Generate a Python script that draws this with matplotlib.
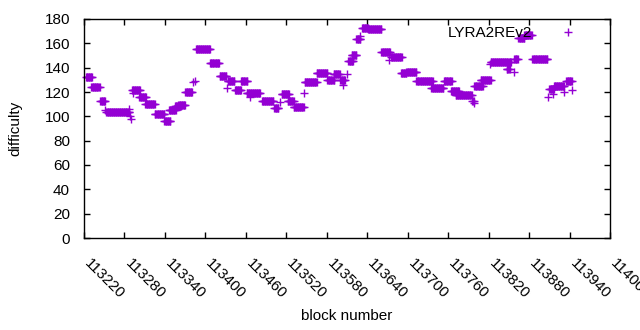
import matplotlib
matplotlib.use("Agg")
import matplotlib.pyplot as plt
import matplotlib.transforms as mtransforms

plt.rcParams["font.family"] = ["Liberation Sans", "DejaVu Sans"]
plt.rcParams["font.size"] = 11

LABEL = "LYRA2REv2"
COLOR = "#9400d3"

# runs of consecutive blocks that share one difficulty value:
# first block, last block, difficulty (single points have first == last)
RUN_START = [113223, 113231, 113244, 113251, 113253, 113286, 113288, 113290,
             113291, 113293, 113302, 113311, 113325, 113339, 113346, 113355,
             113360, 113370, 113382, 113384, 113386, 113407, 113421, 113432,
             113433, 113444, 113453, 113461, 113466, 113484, 113502, 113511,
             113513, 113522, 113531, 113546, 113547, 113565, 113581, 113590,
             113600, 113604, 113610, 113612, 113617, 113624, 113630, 113632,
             113641, 113661, 113673, 113675, 113690, 113698, 113713, 113735,
             113754, 113764, 113771, 113796, 113798, 113799, 113808, 113822,
             113823, 113847, 113857, 113858, 113864, 113873, 113885, 113908,
             113910, 113916, 113917, 113932, 113935, 113944]
RUN_END = [113232, 113243, 113251, 113251, 113287, 113286, 113288, 113290,
           113303, 113293, 113312, 113325, 113339, 113348, 113356, 113364,
           113370, 113380, 113382, 113384, 113407, 113420, 113431, 113432,
           113443, 113453, 113462, 113481, 113466, 113501, 113508, 113511,
           113524, 113531, 113546, 113546, 113565, 113581, 113591, 113599,
           113607, 113604, 113610, 113619, 113624, 113630, 113630, 113641,
           113661, 113674, 113673, 113691, 113698, 113713, 113737, 113753,
           113765, 113776, 113795, 113798, 113798, 113811, 113823, 113822,
           113853, 113851, 113857, 113863, 113873, 113884, 113907, 113908,
           113917, 113916, 113932, 113932, 113943, 113944]
DIFF = [132, 124, 113, 105, 103.3, 106, 100.6, 97.5,
        122, 119, 116, 110, 101.7, 96.4, 105, 108.5,
        109.3, 120.3, 128, 129.3, 155, 144, 133, 123,
        129.3, 121.6, 128.8, 119.2, 116, 113, 107, 112,
        118.3, 113, 107.4, 119, 128.2, 135.3, 130, 134.5,
        129.6, 126, 134.5, 145.5, 150, 163.5, 166, 172.3,
        171.5, 152.6, 146, 148.5, 135.3, 136.7, 129, 123.5,
        129.3, 120.8, 117.8, 113, 110.7, 125, 129.6, 142.7,
        145, 139, 136.2, 147, 164.4, 166.6, 147, 116,
        122.7, 118, 125, 119.7, 128.8, 121.6]

XTICKS = list(range(113220, 114001, 60))
YTICKS = list(range(0, 181, 20))

blocks = []
diffs = []
for a, b, d in zip(RUN_START, RUN_END, DIFF):
    for blk in range(a, b + 1):
        blocks.append(blk)
        diffs.append(d)

fig = plt.figure(figsize=(6.4, 3.3), dpi=100)
ax = fig.add_axes([84 / 640, 1 - 238 / 330, 526 / 640, 219 / 330])
ax.plot(blocks, diffs, ls="none", marker="+", ms=5.5, mew=1.0,
        color=COLOR, label=LABEL, clip_on=False)

ax.set_xlim(113220, 114000)
ax.set_ylim(0, 180)
ax.set_yticks(YTICKS)
ax.set_xticks(XTICKS)
ax.set_xticklabels([str(t) for t in XTICKS], rotation=-45, ha="left",
                   va="center", rotation_mode="anchor")
ax.tick_params(axis="both", direction="in", top=True, right=True,
               length=4, width=1, color="black")
ax.tick_params(axis="x", pad=17)
ax.tick_params(axis="y", pad=10)
off = mtransforms.ScaledTranslation(2 / 72, 0, fig.dpi_scale_trans)
for lab in ax.get_xticklabels():
    lab.set_transform(lab.get_transform() + off)
for s in ax.spines.values():
    s.set_linewidth(1)

ax.set_xlabel("block number")
ax.xaxis.set_label_coords(0.5, (238 - 309) / 219)
ax.set_ylabel("difficulty")
ax.yaxis.set_label_coords((22 - 84) / 526, 0.5)

ax.legend(loc="upper right", bbox_to_anchor=(583 / 640, 1 - 26 / 330),
          bbox_transform=fig.transFigure, frameon=False, markerfirst=False,
          handlelength=2, handletextpad=1.3, borderpad=0, borderaxespad=0,
          numpoints=1)

fig.savefig("out.png", dpi=100)
